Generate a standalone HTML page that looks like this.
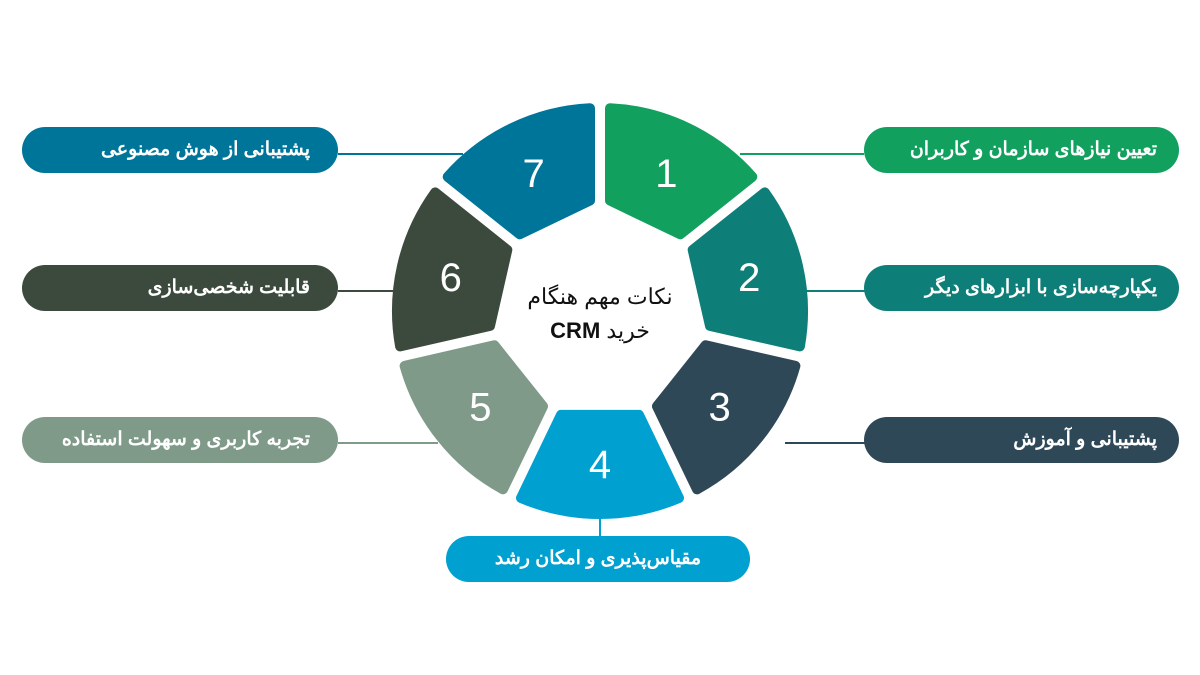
<!DOCTYPE html>
<html><head><meta charset="utf-8"><style>
html,body{margin:0;padding:0;background:#fff;width:1200px;height:675px;overflow:hidden;}
.pill{position:absolute;height:46px;border-radius:23px;color:#fff;font-family:"Liberation Sans","Noto Sans CJK SC",sans-serif;font-weight:bold;font-size:19px;line-height:46px;direction:rtl;box-sizing:border-box;}
.r{left:864px;width:315px;padding-right:22px;text-align:right;}
.l{left:22px;width:316px;padding-right:28px;text-align:right;}
.ln{position:absolute;height:2px;}
.ctr{position:absolute;left:480px;top:280px;width:240px;text-align:center;font-family:"Liberation Sans","Noto Sans CJK SC",sans-serif;font-size:22px;line-height:34px;color:#111;direction:rtl;}
</style></head><body>
<div class="ln" style="left:740px;top:153px;width:124px;background:#12a05f"></div>
<div class="ln" style="left:805px;top:290px;width:60px;background:#0e7f78"></div>
<div class="ln" style="left:785px;top:442px;width:80px;background:#2f4858"></div>
<div class="ln" style="left:338px;top:153px;width:125px;background:#00759a"></div>
<div class="ln" style="left:338px;top:290px;width:55px;background:#3c4a3e"></div>
<div class="ln" style="left:338px;top:442px;width:100px;background:#7f9a89"></div>
<div style="position:absolute;left:599px;top:515px;width:2px;height:24px;background:#00a0d0"></div>
<svg id="s" width="1200" height="675" style="position:absolute;left:0;top:0"></svg>
<div class="ctr">نکات مهم هنگام<br>خرید <b>CRM</b></div>
<div class="pill r" style="top:127px;background:#12a05f">تعیین نیازهای سازمان و کاربران</div>
<div class="pill r" style="top:265px;background:#0e7f78">یکپارچه‌سازی با ابزارهای دیگر</div>
<div class="pill r" style="top:417px;background:#2f4858">پشتیبانی و آموزش</div>
<div class="pill l" style="top:127px;background:#00759a">پشتیبانی از هوش مصنوعی</div>
<div class="pill l" style="top:265px;background:#3c4a3e">قابلیت شخصی‌سازی</div>
<div class="pill l" style="top:417px;background:#7f9a89">تجربه کاربری و سهولت استفاده</div>
<div class="pill" style="left:446px;top:536px;width:304px;text-align:center;background:#00a0d0">مقیاس‌پذیری و امکان رشد</div>
<script>
var cx=600,cy=311,ri=111,ro=203,g=10,cols=["#12a05f","#0e7f78","#2f4858","#00a0d0","#7f9a89","#3c4a3e","#00759a"];
var s="",st=2*Math.PI/7;
for(var i=0;i<7;i++){
 var a0=-Math.PI/2+i*st,a1=a0+st,am=(a0+a1)/2;
 var di=Math.asin(g/ri),dO=Math.asin(g/ro);
 function p(r,a){return (cx+r*Math.cos(a)).toFixed(1)+","+(cy+r*Math.sin(a)).toFixed(1);}
 var d="M"+p(ri,a0+di)+" L"+p(ro,a0+dO)+" A"+ro+","+ro+" 0 0 1 "+p(ro,a1-dO)+" L"+p(ri,a1-di)+" Z";
 s+='<path d="'+d+'" fill="'+cols[i]+'" stroke="'+cols[i]+'" stroke-width="10" stroke-linejoin="round"/>';
 var nx=cx+153*Math.cos(am),ny=cy+153*Math.sin(am);
 s+='<text x="'+nx.toFixed(1)+'" y="'+(ny+14).toFixed(1)+'" fill="#fff" font-family="Liberation Sans,sans-serif" font-size="40" text-anchor="middle">'+(i+1)+'</text>';
}
document.getElementById("s").innerHTML=s;
</script>
</body></html>
